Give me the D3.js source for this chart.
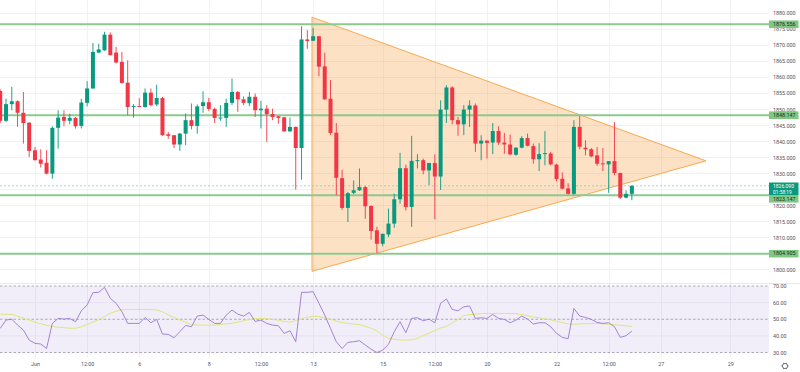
<!DOCTYPE html>
<html><head><meta charset="utf-8">
<script src="https://cdn.jsdelivr.net/npm/d3@7"></script>
<style>html,body{margin:0;padding:0;background:#fff;overflow:hidden}svg{display:block}</style>
</head><body><svg id="c" width="800" height="372"></svg>
<script>
// ---- data ----
const opens=[1855.7,1846.4,1851.6,1852.5,1848.9,1845.8,1837.2,1834.3,1833.3,1829.9,
1844.2,1847.6,1846.4,1847.3,1844.8,1852.0,1856.5,1867.7,1868.4,1873.3,
1867.7,1864.8,1858.3,1850.9,1851.0,1850.7,1855.2,1851.5,1853.5,1842.2,
1841.9,1839.0,1842.4,1846.6,1844.8,1851.0,1852.2,1850.1,1847.3,1847.3,
1852.0,1855.4,1853.1,1851.9,1853.9,1849.7,1850.2,1848.5,1847.8,1847.5,
1843.1,1844.5,1837.9,1871.8,1871.4,1872.8,1863.4,1853.3,1842.7,1828.5,
1819.2,1823.9,1824.7,1825.7,1819.8,1812.2,1808.0,1810.9,1814.3,1821.9,
1831.6,1819.5,1833.8,1834.1,1830.9,1833.2,1829.0,1849.9,1856.8,1846.6,
1845.3,1849.9,1851.2,1839.3,1840.2,1839.6,1843.2,1839.6,1839.0,1835.8,
1838.0,1841.0,1838.5,1834.4,1836.0,1836.2,1832.7,1828.3,1825.3,1823.6,
1844.5,1838.0,1837.5,1835.6,1833.1,1832.8,1833.8,1830.1,1822.4,1823.6];
const highs=[1856.2,1853.3,1857.0,1852.8,1855.4,1846.0,1838.2,1837.5,1837.2,1844.7,
1849.7,1849.7,1848.6,1847.6,1853.3,1858.8,1870.7,1870.5,1874.2,1874.0,
1869.5,1867.9,1865.3,1851.6,1853.5,1856.5,1856.5,1857.7,1853.9,1842.9,
1841.9,1842.6,1848.7,1851.8,1851.5,1855.6,1853.6,1850.5,1851.3,1853.3,
1859.6,1855.7,1854.0,1855.4,1854.9,1852.6,1851.3,1850.2,1847.8,1847.6,
1847.4,1844.6,1875.9,1874.7,1875.4,1872.9,1867.7,1859.1,1845.7,1831.1,
1824.2,1827.8,1831.5,1826.0,1820.0,1813.3,1811.2,1819.0,1823.6,1836.4,
1832.7,1841.7,1836.0,1834.6,1833.3,1835.9,1852.8,1857.5,1857.2,1847.6,
1851.3,1852.8,1851.8,1841.9,1840.3,1845.7,1844.7,1842.6,1842.1,1838.2,
1841.6,1842.4,1839.3,1839.4,1843.2,1836.7,1833.0,1830.3,1826.9,1846.6,
1847.9,1840.3,1837.9,1838.2,1837.9,1833.8,1846.0,1830.2,1824.7,1826.3];
const lows=[1845.6,1846.0,1849.7,1844.5,1839.3,1835.1,1834.0,1831.8,1829.7,1828.3,
1837.7,1844.7,1845.3,1844.0,1844.0,1850.9,1856.4,1867.6,1868.3,1866.8,
1864.4,1858.1,1848.1,1847.4,1850.7,1850.5,1850.9,1851.0,1841.7,1840.8,
1837.9,1837.0,1838.8,1843.7,1842.4,1848.9,1849.5,1845.7,1846.4,1844.5,
1851.3,1849.2,1851.3,1851.0,1847.6,1844.0,1839.8,1846.6,1845.5,1843.0,
1843.0,1824.9,1828.0,1868.9,1871.3,1860.3,1853.0,1841.9,1823.1,1818.6,
1814.8,1823.5,1824.5,1815.8,1809.3,1805.1,1807.2,1810.1,1813.0,1820.5,
1818.4,1813.3,1831.5,1829.7,1826.3,1815.6,1824.8,1845.7,1845.3,1841.7,
1841.9,1844.5,1836.7,1834.1,1834.6,1836.0,1838.9,1836.1,1835.6,1835.5,
1837.8,1838.4,1833.0,1830.7,1832.5,1832.5,1827.5,1825.0,1823.4,1823.3,
1837.5,1835.6,1835.0,1832.3,1830.7,1823.9,1829.4,1822.0,1822.2,1821.6];
const closes=[1846.4,1851.6,1852.5,1848.9,1845.7,1837.0,1834.1,1833.0,1829.9,1844.2,
1847.4,1846.4,1847.3,1844.7,1852.1,1856.5,1867.9,1868.7,1873.3,1866.9,
1864.6,1858.2,1850.7,1851.0,1850.9,1855.2,1851.3,1853.5,1841.9,1841.7,
1839.0,1842.4,1846.6,1844.8,1850.9,1852.2,1850.1,1847.3,1847.4,1852.0,
1855.4,1853.1,1852.0,1853.9,1849.7,1850.2,1848.5,1847.6,1847.3,1843.1,
1844.5,1837.9,1871.8,1871.3,1872.8,1863.3,1853.1,1842.6,1828.6,1819.2,
1823.8,1824.7,1825.7,1819.7,1812.0,1808.0,1811.1,1814.3,1821.9,1831.6,
1819.5,1833.9,1834.1,1830.9,1833.2,1829.0,1849.9,1856.8,1846.6,1845.3,
1849.9,1851.2,1839.3,1840.2,1839.5,1843.2,1839.6,1839.0,1835.9,1838.0,
1841.0,1838.6,1834.4,1836.0,1836.3,1832.8,1828.2,1825.2,1823.6,1844.5,
1838.3,1837.5,1835.3,1833.0,1832.8,1833.8,1830.1,1822.4,1823.6,1826.1];
const rsiValues=[44.5,49.5,50.1,46.5,43.5,37.5,35.5,35.1,32.4,47.5,
50.5,50.1,50.5,48.5,55.1,58.6,66.0,66.2,69.2,62.6,
59.6,54.5,47.5,47.5,47.5,51.1,47.9,49.9,41.1,40.9,
38.9,42.5,46.3,45.5,51.9,52.5,49.9,47.5,47.5,52.5,
55.5,53.1,51.9,54.1,48.7,49.5,47.5,46.5,46.1,41.5,
43.1,36.5,66.2,66.2,66.6,59.6,52.5,44.5,36.5,32.4,
36.1,36.5,37.1,34.5,32.0,30.0,31.4,34.9,42.5,48.5,
41.9,50.5,50.9,49.1,50.1,47.9,59.6,62.2,55.9,55.1,
57.5,58.0,50.5,50.9,50.5,52.9,50.5,49.9,47.9,49.5,
51.9,50.1,47.1,47.9,47.9,45.5,41.5,39.1,38.3,56.5,
51.9,51.1,49.9,48.1,47.5,47.9,45.5,39.1,40.1,42.9];
const rsiMaValues=[53.1,53.0,52.9,51.8,50.7,49.5,48.2,47.3,46.4,45.6,
45.2,44.9,44.6,44.6,45.4,46.8,48.3,49.8,51.6,53.6,
54.8,55.8,55.9,55.9,55.9,55.9,55.9,55.6,54.5,52.6,
51.2,49.5,48.2,46.8,46.5,46.5,46.5,46.5,46.8,47.2,
47.6,48.3,49.1,49.8,50.4,50.5,50.3,50.0,49.4,48.7,
48.2,49.2,50.4,51.2,51.8,51.6,50.8,50.0,48.9,48.0,
47.5,47.1,46.8,45.7,44.6,43.0,40.2,38.6,38.0,37.5,
37.5,37.6,38.5,40.2,41.7,43.2,44.8,45.6,47.7,50.0,
52.2,52.8,53.1,53.4,53.5,53.5,53.5,53.5,53.5,53.4,
52.8,52.1,51.3,50.9,50.3,49.6,48.8,48.0,47.2,47.0,
47.2,47.3,47.4,47.5,47.3,47.0,46.7,46.4,46.0,45.7];
const priceTicks=[1800,1805,1810,1815,1820,1825,1830,1835,1840,1845,1850,1855,1860,1865,1870,1875,1880];
const rsiTicks=[30,40,50,60,70];
const rsiDashed=[30,50,70];
const timeTickIdx=[6,15,24,36,45,54,66,75,84,96,105,114,126];
const timeLabels=["Jun","12:00","6","8","12:00","13","15","12:00","20","22","12:00","27","29"];
const levels=[1876.556,1848.147,1823.147,1804.905];
const lastPrice=1826.09;
const countdown="01:58:19";
const triIdx=[53.8,121.8,53.8];
const triPrice=[1878.75,1833.9,1799.4];

// ---- layout ----
const W=800,H=372,plotR=769;
const svg=d3.select("#c");
const FONT="Roboto, 'Liberation Sans', sans-serif";
const x=d3.scaleLinear().domain([0,132]).range([0.2,0.2+132*5.795]);
const y=d3.scaleLinear().domain([1800,1880]).range([269.4,13.2]);
const yR=d3.scaleLinear().domain([30,70]).range([352.5,286]);
const bodyW=4;

svg.append("rect").attr("width",W).attr("height",H).attr("fill","#fff");
const defs=svg.append("defs");
defs.append("clipPath").attr("id","mainClip").append("rect").attr("x",0).attr("y",0).attr("width",plotR).attr("height",283);
defs.append("clipPath").attr("id","rsiClip").append("rect").attr("x",0).attr("y",284).attr("width",plotR).attr("height",74);

// grid
const grid=svg.append("g");
grid.selectAll("line.h").data(priceTicks).join("line")
  .attr("x1",0).attr("x2",plotR).attr("y1",d=>Math.round(y(d))+0.5).attr("y2",d=>Math.round(y(d))+0.5)
  .attr("stroke","#f0f2f6").attr("stroke-width",1);
grid.selectAll("line.v").data(timeTickIdx).join("line")
  .attr("y1",0).attr("y2",358).attr("x1",d=>Math.round(x(d))+0.5).attr("x2",d=>Math.round(x(d))+0.5)
  .attr("stroke","#f0f2f6").attr("stroke-width",1);

const main=svg.append("g").attr("clip-path","url(#mainClip)");

// triangle
const triPts=triIdx.map((d,i)=>[x(d),y(triPrice[i])]);
main.append("path").attr("d",d3.line()(triPts)+"Z")
  .attr("fill","rgba(247,140,30,0.26)").attr("stroke","#f7a040").attr("stroke-width",0.9);

// levels
main.selectAll("line.lvl").data(levels).join("line")
  .attr("x1",0).attr("x2",plotR).attr("y1",d=>y(d)).attr("y2",d=>y(d))
  .attr("stroke","#8cc98e").attr("stroke-width",2);

// last price dashed
main.append("line").attr("x1",0).attr("x2",plotR).attr("y1",y(lastPrice)).attr("y2",y(lastPrice))
  .attr("stroke","#8fc9bd").attr("stroke-width",0.8).attr("stroke-dasharray","2,2");

// candles
const idx=d3.range(opens.length);
const col=i=>closes[i]>=opens[i]?"#089981":"#f23645";
main.selectAll("line.wick").data(idx).join("line")
  .attr("x1",i=>x(i)).attr("x2",i=>x(i)).attr("y1",i=>y(highs[i])).attr("y2",i=>y(lows[i]))
  .attr("stroke",col).attr("stroke-width",0.9);
main.selectAll("rect.body").data(idx).join("rect")
  .attr("x",i=>x(i)-bodyW/2).attr("width",bodyW)
  .attr("y",i=>y(Math.max(opens[i],closes[i])))
  .attr("height",i=>Math.max(0.9,Math.abs(y(opens[i])-y(closes[i]))))
  .attr("fill",col);

// pane separator
svg.append("line").attr("x1",0).attr("x2",W).attr("y1",283.5).attr("y2",283.5).attr("stroke","#e6e8ee");

// RSI pane
const rsiG=svg.append("g").attr("clip-path","url(#rsiClip)");
rsiG.append("rect").attr("x",0).attr("width",plotR).attr("y",yR(70)).attr("height",yR(30)-yR(70))
  .attr("fill","rgba(126,87,194,0.10)");
rsiG.selectAll("line.rg").data(rsiTicks.filter(d=>!rsiDashed.includes(d))).join("line")
  .attr("x1",0).attr("x2",plotR).attr("y1",d=>yR(d)).attr("y2",d=>yR(d)).attr("stroke","#e6e1f0");
rsiG.selectAll("line.rd").data(rsiDashed).join("line")
  .attr("x1",0).attr("x2",plotR).attr("y1",d=>yR(d)).attr("y2",d=>yR(d))
  .attr("stroke","#9a94a8").attr("stroke-width",0.8).attr("stroke-dasharray","2.5,2");
rsiG.append("path").datum(idx).attr("fill","none").attr("stroke","#e0e67c").attr("stroke-width",1)
  .attr("d",d3.line().x(i=>x(i)).y(i=>yR(rsiMaValues[i])));
rsiG.append("path").datum(idx).attr("fill","none").attr("stroke","#9a78d0").attr("stroke-width",0.9)
  .attr("d",d3.line().x(i=>x(i)).y(i=>yR(rsiValues[i])));

// label boxes positions (price axis labels hidden behind boxes are skipped)
const boxes=levels.map(v=>{
  let top=y(v)-3.8;
  if(Math.abs(v-lastPrice)<4) top=Math.max(top,195);
  return {v,top,h:7.6};
});
const lastBox={top:182.5,h:12.5};
const allBoxes=boxes.concat([lastBox]);
const visibleTicks=priceTicks.filter(t=>{
  const cy=y(t);
  return !allBoxes.some(b=>cy>b.top-0.5 && cy<b.top+b.h+0.5);
});

// price axis
const pAxis=svg.append("g").attr("transform",`translate(${plotR+4},0)`)
  .call(d3.axisRight(y).tickValues(visibleTicks).tickFormat(d3.format(".3f")).tickSize(0).tickPadding(0));
pAxis.select(".domain").remove();
pAxis.selectAll("text").attr("font-family",FONT).attr("font-size",5.4).attr("fill","#50535e");

const rAxis=svg.append("g").attr("transform",`translate(${plotR+4},0)`)
  .call(d3.axisRight(yR).tickValues(rsiTicks).tickFormat(d3.format(".2f")).tickSize(0).tickPadding(0));
rAxis.select(".domain").remove();
rAxis.selectAll("text").attr("font-family",FONT).attr("font-size",5.4).attr("fill","#50535e");

// time axis
const tAxis=svg.append("g").attr("transform","translate(0,362)")
  .call(d3.axisBottom(x).tickValues(timeTickIdx).tickFormat((d,i)=>timeLabels[i]).tickSize(0).tickPadding(0));
tAxis.select(".domain").remove();
tAxis.selectAll("text").attr("font-family",FONT).attr("font-size",5.4).attr("fill","#50535e");

// level labels
const lab=svg.append("g");
boxes.forEach(b=>{
  lab.append("rect").attr("x",plotR).attr("y",b.top).attr("width",29.5).attr("height",b.h).attr("fill","#81c784");
  lab.append("text").attr("x",plotR+4).attr("y",b.top+5.6).text(b.v.toFixed(3))
    .attr("font-family",FONT).attr("font-size",5.4).attr("fill","#1e2a20");
});
// last price box
lab.append("rect").attr("x",plotR).attr("y",lastBox.top).attr("width",29.5).attr("height",lastBox.h).attr("fill","#089981");
lab.append("text").attr("x",plotR+4).attr("y",187.6).text(lastPrice.toFixed(3))
  .attr("font-family",FONT).attr("font-size",5).attr("fill","#fff");
lab.append("text").attr("x",plotR+4).attr("y",193.9).text(countdown)
  .attr("font-family",FONT).attr("font-size",4.9).attr("fill","#fff");

// gear icon
const gear=svg.append("g").attr("transform","translate(785,366)");
gear.append("circle").attr("r",2.6).attr("fill","none").attr("stroke","#50535e").attr("stroke-width",0.8);
gear.selectAll("line").data(d3.range(6)).join("line")
  .attr("x1",d=>Math.cos(d*Math.PI/3)*2.6).attr("y1",d=>Math.sin(d*Math.PI/3)*2.6)
  .attr("x2",d=>Math.cos(d*Math.PI/3)*3.6).attr("y2",d=>Math.sin(d*Math.PI/3)*3.6)
  .attr("stroke","#50535e").attr("stroke-width",0.9);
</script></body></html>
